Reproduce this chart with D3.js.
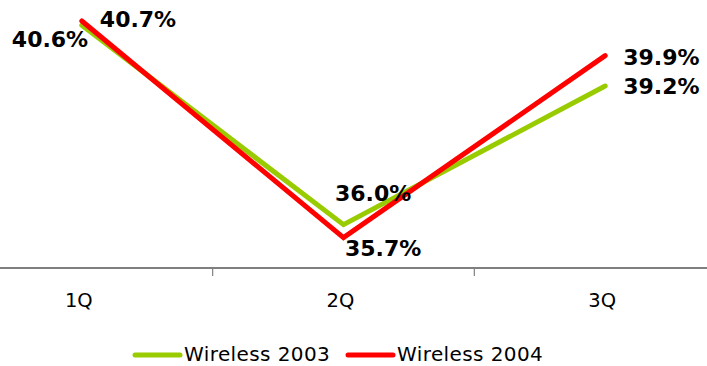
<!DOCTYPE html>
<html>
<head>
<meta charset="utf-8">
<script src="https://cdn.jsdelivr.net/npm/d3@7"></script>
<style>
  html, body { margin: 0; padding: 0; background: #fff; }
  svg { display: block; font-family: "DejaVu Sans", Verdana, sans-serif; }
</style>
</head>
<body>
<svg id="chart" width="707" height="366"></svg>
<script>
// Quarterly values per series
const categories = ["1Q", "2Q", "3Q"];
const wireless2003 = [40.6, 36.0, 39.2];
const wireless2004 = [40.7, 35.7, 39.9];
const seriesNames = ["Wireless 2003", "Wireless 2004"];
const seriesColors = ["#99CC00", "#FF0000"];

const svg = d3.select("#chart");
const W = 707, H = 366;

const x = d3.scaleBand().domain(categories).range([-49, 736]);
const y = d3.scaleLinear().domain([35, 41]).range([268, 8]);
const cx = c => x(c) + x.bandwidth() / 2;

// x axis: baseline, tick marks between categories, labels
svg.append("line")
  .attr("x1", 0).attr("x2", W)
  .attr("y1", y(35)).attr("y2", y(35))
  .attr("stroke", "#000").attr("stroke-width", 1.2);

categories.slice(1).forEach(c => {
  svg.append("line")
    .attr("x1", x(c)).attr("x2", x(c))
    .attr("y1", y(35)).attr("y2", y(35) + 8)
    .attr("stroke", "#808080").attr("stroke-width", 1.2);
});

svg.selectAll("text.cat").data(categories).enter().append("text")
  .attr("class", "cat")
  .attr("x", d => cx(d) - 3)
  .attr("y", 307)
  .attr("text-anchor", "middle")
  .attr("font-size", 19.5)
  .attr("fill", "#000")
  .text(d => d);

const line = d3.line().x((d, i) => cx(categories[i])).y(d => y(d));

const series = [wireless2003, wireless2004];
series.forEach((vals, si) => {
  svg.append("path")
    .attr("d", line(vals))
    .attr("fill", "none")
    .attr("stroke", seriesColors[si])
    .attr("stroke-width", 5)
    .attr("stroke-linecap", "round")
    .attr("stroke-linejoin", "miter");
});

// value labels
const fmt = v => v.toFixed(1) + "%";
const labelOffsets = [
  // Wireless 2003
  [{dx: -70, dy: 22}, {dx: -8.5, dy: -24}, {dx: 18, dy: 8}],
  // Wireless 2004
  [{dx: 18, dy: 6}, {dx: 1.5, dy: 18}, {dx: 18, dy: 9}]
];
series.forEach((vals, si) => {
  vals.forEach((v, i) => {
    const o = labelOffsets[si][i];
    svg.append("text")
      .attr("x", cx(categories[i]) + o.dx)
      .attr("y", y(v) + o.dy)
      .attr("font-size", 22)
      .attr("font-weight", "bold")
      .attr("fill", "#000")
      .text(fmt(v));
  });
});

// legend
const legend = svg.append("g");
const legendItems = [{x: 135, tx: 184}, {x: 348, tx: 397}];
seriesNames.forEach((name, i) => {
  const it = legendItems[i];
  legend.append("line")
    .attr("x1", it.x).attr("x2", it.x + 45)
    .attr("y1", 355).attr("y2", 355)
    .attr("stroke", seriesColors[i]).attr("stroke-width", 5)
    .attr("stroke-linecap", "round");
  legend.append("text")
    .attr("x", it.tx).attr("y", 361)
    .attr("font-size", 20)
    .attr("letter-spacing", 0.4)
    .attr("fill", "#000")
    .text(name);
});
</script>
</body>
</html>
